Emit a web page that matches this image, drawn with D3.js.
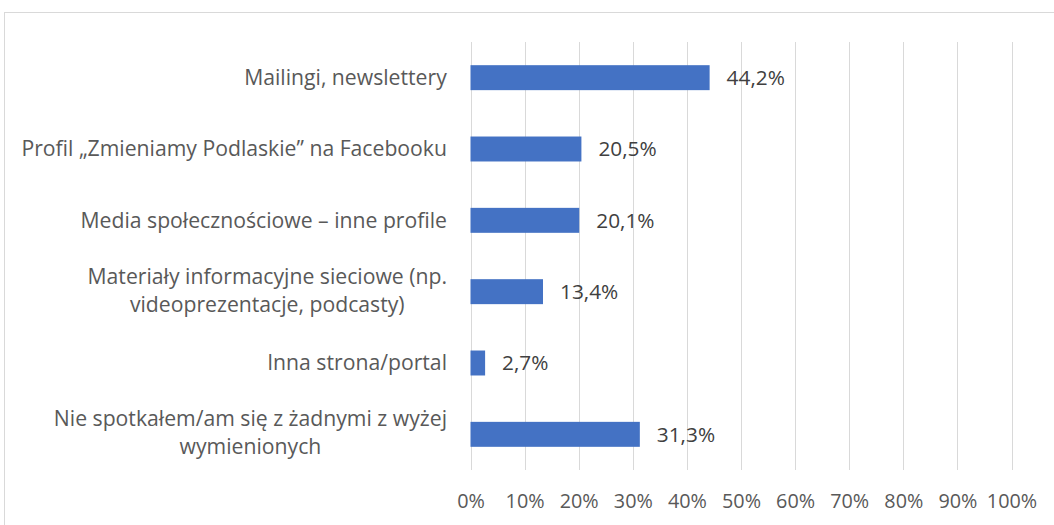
<!DOCTYPE html>
<html>
<head>
<meta charset="utf-8">
<script src="https://cdn.jsdelivr.net/npm/d3@7"></script>
<style>
  body { margin: 0; background: #fff; }
  text { font-family: "Open Sans", sans-serif; }
</style>
</head>
<body>
<svg width="1054" height="525"></svg>
<script>
const categories = [
  ['Mailingi, newslettery'],
  ['Profil „Zmieniamy Podlaskie” na Facebooku'],
  ['Media społecznościowe – inne profile'],
  ['Materiały informacyjne sieciowe (np.', 'videoprezentacje, podcasty)'],
  ['Inna strona/portal'],
  ['Nie spotkałem/am się z żadnymi z wyżej', 'wymienionych']
];
const values = [44.2, 20.5, 20.1, 13.4, 2.7, 31.3];
const ticks = [0, 10, 20, 30, 40, 50, 60, 70, 80, 90, 100];

const svg = d3.select('svg');
const width = +svg.attr('width');
const height = +svg.attr('height');
const fontSize = 20.8;
const catFontSize = 21.2;

// chart border
svg.append('rect')
  .attr('x', 4.5).attr('y', 12.5)
  .attr('width', width + 10).attr('height', height + 10)
  .attr('fill', 'none')
  .attr('stroke', '#d9d9d9');

const x = d3.scaleLinear().domain([0, 100]).range([470.5, 1011.5]);
const y = d3.scaleBand().domain(d3.range(categories.length)).range([42, 470]).paddingInner(0.65).paddingOuter(0.325);

// gridlines
svg.append('g')
  .selectAll('line')
  .data(ticks)
  .join('line')
  .attr('x1', d => Math.round(x(d)) + 0.5)
  .attr('x2', d => Math.round(x(d)) + 0.5)
  .attr('y1', 42)
  .attr('y2', 470)
  .attr('stroke', '#d9d9d9')
  .attr('stroke-width', 1);

// x axis labels
const xAxis = svg.append('g')
  .attr('transform', 'translate(0, 470)')
  .call(d3.axisBottom(x).tickValues(ticks).tickFormat(d => d + '%').tickSize(0).tickPadding(24));
xAxis.select('.domain').remove();
xAxis.selectAll('text')
  .attr('font-family', '"Open Sans", sans-serif')
  .attr('font-size', 19.8)
  .attr('fill', '#595959');

// bars
svg.append('g')
  .selectAll('rect')
  .data(values)
  .join('rect')
  .attr('x', x(0))
  .attr('y', (d, i) => y(i))
  .attr('width', d => x(d) - x(0))
  .attr('height', y.bandwidth())
  .attr('fill', '#4472c4');

// value labels
svg.append('g')
  .selectAll('text')
  .data(values)
  .join('text')
  .attr('x', d => x(d) + 17)
  .attr('y', (d, i) => y(i) + y.bandwidth() / 2)
  .attr('dy', '0.35em')
  .attr('font-size', fontSize)
  .attr('fill', '#404040')
  .text(d => d.toFixed(1).replace('.', ',') + '%');

// category labels
const lineH = 28;
const catG = svg.append('g')
  .selectAll('text')
  .data(categories)
  .join('text')
  .attr('text-anchor', 'middle')
  .attr('font-size', catFontSize)
  .attr('fill', '#595959')
  .attr('y', (d, i) => y(i) + y.bandwidth() / 2 - (d.length - 1) * lineH / 2 - (d.length - 1) * 1.5);

catG.each(function (d) {
  const t = d3.select(this);
  d.forEach((line, j) => {
    t.append('tspan').attr('x', 0).attr('dy', j === 0 ? '0.35em' : lineH).text(line);
  });
});
// right-align block, centre lines inside
catG.each(function () {
  const bb = this.getBBox();
  d3.select(this).selectAll('tspan').attr('x', 447 - bb.width / 2);
});
</script>
</body>
</html>
